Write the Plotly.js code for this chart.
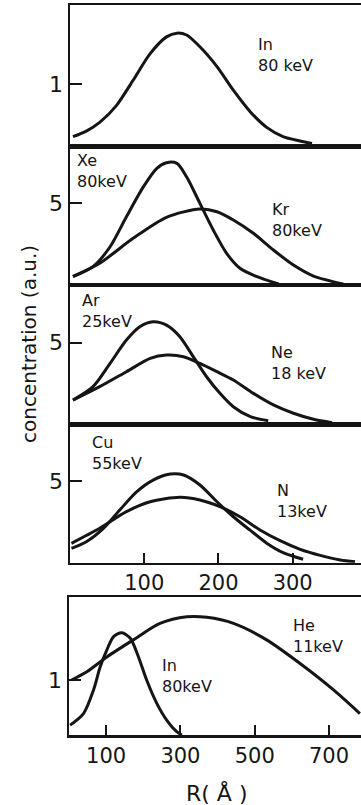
<!DOCTYPE html>
<html><head><meta charset="utf-8">
<script src="https://cdn.plot.ly/plotly-3.0.1.min.js"></script>
<style>html,body{margin:0;padding:0;background:#fff}#c{width:361px;height:805px}</style>
</head><body><div id="c"></div>
<script>
// Panel 1: In 80 keV
const inTopR = [4, 22, 40, 63, 85, 108, 130, 144, 157, 175, 198, 220, 243, 265, 287, 310, 326];
const inTopC = [0.15, 0.24, 0.38, 0.66, 1.06, 1.49, 1.76, 1.82, 1.79, 1.60, 1.28, 0.90, 0.55, 0.30, 0.15, 0.08, 0.04];
// Panel 2: Xe 80 keV, Kr 80 keV
const xeR = [4, 31, 54, 76, 99, 117, 130, 144, 157, 175, 193, 211, 229, 252, 281];
const xeC = [0.45, 1.07, 2.30, 4.15, 6.01, 7.14, 7.49, 7.45, 6.62, 4.98, 3.33, 1.89, 0.97, 0.45, 0.0];
const krR = [4, 40, 85, 130, 175, 198, 220, 247, 274, 301, 328, 368];
const krC = [0.47, 1.28, 2.82, 4.12, 4.63, 4.46, 3.95, 3.13, 2.10, 1.17, 0.49, 0.0];
// Panel 3: Ar 25 keV, Ne 18 keV
const arR = [4, 31, 54, 76, 94, 112, 130, 148, 166, 184, 202, 220, 243, 267];
const arC = [1.47, 2.29, 3.72, 5.15, 5.97, 6.28, 6.07, 5.36, 4.13, 2.90, 1.88, 1.06, 0.45, 0.20];
const neR = [4, 40, 76, 108, 130, 153, 175, 198, 220, 247, 274, 301, 328, 353];
const neC = [1.47, 2.29, 3.21, 4.03, 4.23, 4.13, 3.72, 3.21, 2.70, 1.88, 1.17, 0.66, 0.29, 0.08];
// Panel 4: Cu 55 keV, N 13 keV
const cuR = [2, 22, 45, 67, 90, 112, 135, 153, 175, 198, 220, 243, 265, 287, 314];
const cuC = [0.88, 1.29, 2.11, 3.23, 4.36, 5.07, 5.44, 5.38, 4.77, 3.74, 2.82, 1.98, 1.20, 0.62, 0.21];
const nR = [2, 40, 76, 108, 148, 175, 202, 229, 256, 283, 310, 337, 364, 384];
const nC = [1.19, 2.11, 3.13, 3.74, 4.01, 3.85, 3.44, 2.82, 2.01, 1.35, 0.82, 0.45, 0.17, 0.06];
// Panel 5: In 80 keV, He 11 keV (wider R scale)
const inBotR = [3, 39, 66, 84, 102, 120, 142, 165, 187, 209, 236, 263, 290, 304];
const inBotC = [0.18, 0.39, 0.82, 1.24, 1.55, 1.79, 1.86, 1.76, 1.42, 1.00, 0.58, 0.27, 0.06, 0.0];
const heR = [7, 48, 102, 173, 245, 317, 371, 443, 532, 622, 712, 783];
const heC = [1.00, 1.15, 1.42, 1.73, 2.03, 2.15, 2.14, 2.03, 1.73, 1.30, 0.82, 0.39];

const topTicks = [100, 200, 300];
const botTicks = [100, 300, 500, 700];

const W = 361, H = 805;
const ink = '#151515';
const FONT = 'DejaVu Sans';
const py = v => 1 - v / H;

function tr(x, y, k) {
  return {x: x, y: y, xaxis: k === 1 ? 'x' : 'x' + k, yaxis: k === 1 ? 'y' : 'y' + k,
    mode: 'lines', line: {color: ink, width: 3, shape: 'spline', smoothing: 0.8}, hoverinfo: 'skip'};
}
const data = [
  tr(inTopR, inTopC, 1),
  tr(xeR, xeC, 2), tr(krR, krC, 2),
  tr(arR, arC, 3), tr(neR, neC, 3),
  tr(cuR, cuC, 4), tr(nR, nC, 4),
  tr(inBotR, inBotC, 5), tr(heR, heC, 5)
];

function xa(dom, range, ticks, k) {
  return {domain: dom, range: range, showline: true, mirror: true, linecolor: ink, linewidth: 2.5,
    showgrid: false, zeroline: false, ticks: ticks ? 'inside' : '', ticklen: 10, tickwidth: 2, tickcolor: ink,
    tickvals: ticks || [], showticklabels: !!ticks, tickfont: {family: FONT, size: 21, color: ink},
    automargin: false, fixedrange: true, anchor: k === 1 ? 'y' : 'y' + k};
}
function ya(top, bot, range, tick, k) {
  return {domain: [py(bot), py(top)], range: range, showline: true, mirror: false, linecolor: ink, linewidth: 2.5,
    showgrid: false, zeroline: false, ticks: 'inside', ticklen: 12, tickwidth: 2, tickcolor: ink,
    tickvals: [tick], ticktext: [String(tick)], tickfont: {family: FONT, size: 22, color: ink},
    automargin: false, fixedrange: true, anchor: k === 1 ? 'x' : 'x' + k};
}
const domTop = [70 / W, 1], domBot = [69 / W, 1];
const layout = {
  width: W, height: H, margin: {l: 0, r: 0, t: 0, b: 0}, showlegend: false,
  paper_bgcolor: '#fff', plot_bgcolor: 'rgba(0,0,0,0)',
  font: {family: FONT, color: ink},
  xaxis: xa(domTop, [0, 392], null, 1),
  xaxis2: xa(domTop, [0, 392], null, 2),
  xaxis3: xa(domTop, [0, 392], null, 3),
  xaxis4: xa(domTop, [0, 392], topTicks, 4),
  xaxis5: xa(domBot, [0, 786], botTicks, 5),
  yaxis: ya(5, 146, [0, 2.274], 1, 1),
  yaxis2: ya(146, 284, [0, 8.52], 5, 2),
  yaxis3: ya(285, 424, [0, 8.53], 5, 3),
  yaxis4: ya(424, 562.7, [0, 8.51], 5, 4),
  yaxis5: ya(597, 735, [0, 2.51], 1, 5),
  annotations: []
};
function lab(text, x, yTop, size) {
  layout.annotations.push({text: text, xref: 'paper', yref: 'paper', x: x / W, y: py(yTop),
    xanchor: 'left', yanchor: 'top', showarrow: false, align: 'left',
    font: {family: FONT, size: size || 16, color: ink}});
}
lab('In<br>80 keV', 256, 33);
lab('Xe<br>80keV', 75, 149);
lab('Kr<br>80keV', 270, 198);
lab('Ar<br>25keV', 80, 289);
lab('Ne<br>18 keV', 269, 341);
lab('Cu<br>55keV', 90, 431);
lab('N<br>13keV', 275, 479);
lab('He<br>11keV', 291, 614);
lab('In<br>80keV', 160, 654);
layout.annotations.push({text: 'concentration (a.u.)', xref: 'paper', yref: 'paper', x: 29 / W, y: py(344),
  xanchor: 'center', yanchor: 'middle', textangle: -90, showarrow: false,
  font: {family: FONT, size: 20, color: ink}});
layout.annotations.push({text: 'R( Å )', xref: 'paper', yref: 'paper', x: 217 / W, y: py(793),
  xanchor: 'center', yanchor: 'middle', showarrow: false,
  font: {family: FONT, size: 22, color: ink}});

Plotly.newPlot('c', data, layout, {staticPlot: true, displayModeBar: false});
</script></body></html>
